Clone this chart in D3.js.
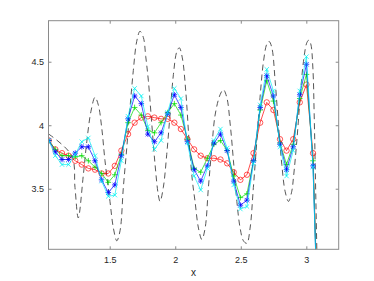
<!DOCTYPE html>
<html>
<head>
<meta charset="utf-8">
<script src="https://cdn.jsdelivr.net/npm/d3@7"></script>
<style>
  body { margin: 0; background: #fff; }
  text { font-family: "Liberation Sans", Arial, sans-serif; }
</style>
</head>
<body>
<div id="chart"></div>
<script>
// sample positions of the marker series
var xs = [1.035,1.085,1.136,1.186,1.237,1.287,1.337,1.388,1.438,1.489,1.539,1.589,1.640,1.690,1.741,1.791,1.841,1.892,1.942,1.993,2.043,
  2.093,2.144,2.194,2.245,2.295,2.345,2.396,2.446,2.497,2.547,2.597,2.648,2.698,2.749,2.799,2.849,2.900,2.950,3.001,3.051,3.101];

var redVals = [3.88,3.81,3.78,3.76,3.72,3.69,3.66,3.65,3.62,3.62,3.68,3.80,3.93,4.02,4.06,4.07,4.06,4.05,4.05,4.02,3.97,
  3.89,3.81,3.76,3.74,3.74,3.73,3.70,3.63,3.57,3.61,3.78,4.02,4.18,4.12,3.89,3.80,3.89,4.18,4.32,3.78,2.0];
var greenVals = [3.88,3.81,3.76,3.76,3.75,3.76,3.72,3.67,3.62,3.55,3.61,3.77,4.02,4.14,4.08,3.96,3.94,4.02,4.10,4.17,4.08,
  3.89,3.66,3.63,3.74,3.85,3.88,3.80,3.60,3.43,3.46,3.72,4.12,4.35,4.19,3.86,3.69,3.85,4.21,4.40,3.72,2.0];
var blueVals = [3.88,3.79,3.73,3.73,3.78,3.83,3.83,3.72,3.57,3.47,3.53,3.76,4.05,4.23,4.17,3.93,3.87,3.94,4.09,4.24,4.14,
  3.87,3.65,3.56,3.68,3.86,3.93,3.80,3.56,3.37,3.41,3.72,4.14,4.39,4.23,3.85,3.65,3.83,4.24,4.48,3.68,2.0];
var cyanVals = [3.88,3.76,3.69,3.69,3.77,3.87,3.90,3.76,3.56,3.44,3.45,3.72,4.07,4.29,4.23,3.99,3.81,3.88,4.10,4.29,4.21,
  3.86,3.60,3.49,3.66,3.88,3.97,3.82,3.53,3.34,3.36,3.70,4.16,4.44,4.27,3.83,3.60,3.80,4.27,4.54,3.67,2.0];

// reference curve (dashed)
var refX = [1.035,1.210,1.235,1.260,1.299,1.325,1.357,1.388,1.413,1.439,1.464,1.502,1.528,1.554,1.579,1.604,1.630,1.655,1.680,1.706,
  1.731,1.757,1.775,1.795,1.821,1.846,1.871,1.884,1.909,1.935,1.960,1.986,2.012,2.031,2.054,2.080,2.106,2.131,2.151,2.177,
  2.203,2.228,2.253,2.279,2.304,2.342,2.367,2.393,2.419,2.444,2.470,2.495,2.520,2.546,2.571,2.596,2.622,2.647,2.673,2.699,
  2.716,2.737,2.762,2.787,2.813,2.838,2.864,2.889,2.902,2.927,2.953,2.978,3.004,3.019,3.034,3.050,3.060,3.070,3.080,3.100];
var refY = [3.93,3.76,3.51,3.27,3.61,3.87,4.11,4.22,4.16,3.98,3.72,3.40,3.19,3.09,3.17,3.51,3.82,4.14,4.43,4.66,
  4.74,4.69,4.54,4.35,4.01,3.69,3.45,3.40,3.51,3.77,4.08,4.40,4.58,4.61,4.53,4.27,3.87,3.56,3.40,3.19,
  3.10,3.19,3.51,3.82,4.08,4.24,4.28,4.22,4.01,3.72,3.40,3.19,3.09,3.07,3.19,3.51,3.87,4.22,4.50,4.64,
  4.66,4.61,4.35,4.01,3.69,3.48,3.40,3.48,3.59,3.87,4.22,4.50,4.65,4.67,4.64,4.45,4.08,3.56,3.03,2.0];

var xTicks = [1.5, 2, 2.5, 3];
var yTicks = [3.5, 4, 4.5];

var svgWidth = 374;
var svgHeight = 281;
var margin = {left: 48.5, right: 35.3, top: 20.7, bottom: 31.7};
var width = svgWidth - margin.left - margin.right;
var height = svgHeight - margin.top - margin.bottom;

var svg = d3.select("#chart").append("svg")
  .attr("width", svgWidth)
  .attr("height", svgHeight);

var g = svg.append("g")
  .attr("transform", `translate(${margin.left}, ${margin.top})`);

var x = d3.scaleLinear().domain([1.033, 3.247]).range([0, width]);
var y = d3.scaleLinear().domain([3.023, 4.823]).range([height, 0]);

g.append("clipPath").attr("id", "clip")
  .append("rect").attr("width", width).attr("height", height);

var plot = g.append("g").attr("clip-path", "url(#clip)");

// dashed reference
var refData = refX.map((d, i) => [d, refY[i]]);
plot.append("path")
  .datum(refData)
  .attr("fill", "none")
  .attr("stroke", "#444")
  .attr("stroke-width", 0.9)
  .attr("stroke-dasharray", "6,4")
  .attr("d", d3.line().x(d => x(d[0])).y(d => y(d[1])).curve(d3.curveCatmullRom));

var series = [
  {vals: redVals, color: "#ff0000", marker: "o"},
  {vals: greenVals, color: "#00dd00", marker: "+"},
  {vals: blueVals, color: "#0000ff", marker: "*"},
  {vals: cyanVals, color: "#00f0f0", marker: "x"}
];

function markerPath(type) {
  var p = 2.8, q = 2.2;
  if (type == "+") return `M${-p},0H${p}M0,${-p}V${p}`;
  if (type == "x") return `M${-q},${-q}L${q},${q}M${-q},${q}L${q},${-q}`;
  // star: plus and cross
  return `M${-p},0H${p}M0,${-p}V${p}M${-q},${-q}L${q},${q}M${-q},${q}L${q},${-q}`;
}

series.forEach(function(s) {
  var pts = xs.map((d, i) => [d, s.vals[i]]);
  plot.append("path")
    .datum(pts)
    .attr("fill", "none")
    .attr("stroke", s.color)
    .attr("stroke-width", 0.7)
    .attr("d", d3.line().x(d => x(d[0])).y(d => y(d[1])));

  var m = plot.selectAll(null)
    .data(pts)
    .enter();
  if (s.marker == "o") {
    m.append("circle")
      .attr("cx", d => x(d[0]))
      .attr("cy", d => y(d[1]))
      .attr("r", 2.7)
      .attr("fill", "none")
      .attr("stroke", s.color)
      .attr("stroke-width", 0.65);
  } else {
    m.append("path")
      .attr("transform", d => `translate(${x(d[0])},${y(d[1])})`)
      .attr("d", markerPath(s.marker))
      .attr("fill", "none")
      .attr("stroke", s.color)
      .attr("stroke-width", 0.75);
  }
});

// axes, ticks pointing inwards
var axisColor = "#8a8a8a";
var bottomAxis = d3.axisBottom(x).tickValues(xTicks).tickSizeInner(-3).tickSizeOuter(0).tickPadding(7.5).tickFormat(d3.format("~g"));
var leftAxis = d3.axisLeft(y).tickValues(yTicks).tickSizeInner(-3).tickSizeOuter(0).tickPadding(4.5).tickFormat(d3.format("~g"));
var topAxis = d3.axisTop(x).tickValues(xTicks).tickSizeInner(-3).tickSizeOuter(0).tickFormat("");
var rightAxis = d3.axisRight(y).tickValues(yTicks).tickSizeInner(-3).tickSizeOuter(0).tickFormat("");

[[bottomAxis, `translate(0, ${height})`], [leftAxis, null], [topAxis, null], [rightAxis, `translate(${width}, 0)`]]
  .forEach(function(a) {
    var ag = g.append("g").call(a[0]);
    if (a[1]) ag.attr("transform", a[1]);
    ag.select(".domain").remove();
    ag.selectAll("line").attr("stroke", axisColor);
    ag.selectAll("text").attr("fill", "#262626").style("font-size", "9px")
      .style("font-family", "'Liberation Sans', Arial, sans-serif");
  });

g.append("rect")
  .attr("width", width)
  .attr("height", height)
  .attr("fill", "none")
  .attr("stroke", axisColor)
  .attr("stroke-width", 1);

g.append("text")
  .attr("x", width / 2)
  .attr("y", height + 27)
  .attr("text-anchor", "middle")
  .attr("fill", "#262626")
  .style("font-size", "10px")
  .text("x");
</script>
</body>
</html>
